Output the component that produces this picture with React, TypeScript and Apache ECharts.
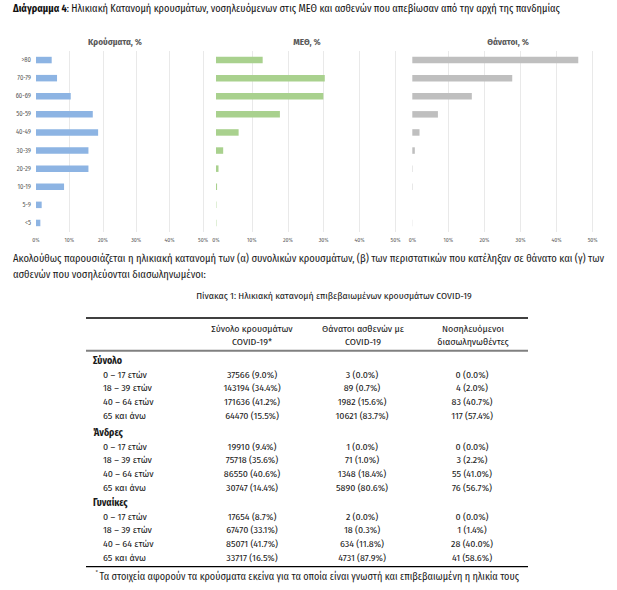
import React, { useEffect, useRef } from "react";
import * as echarts from "echarts";

const ageBands = ["<5", "5-9", "10-19", "20-29", "30-39", "40-49", "50-59", "60-69", "70-79", ">80"];
const casesPct = [1.3, 1.7, 8.4, 15.7, 15.7, 18.6, 17.0, 10.4, 6.3, 4.7];
const icuPct = [0.1, 0.1, 0.3, 0.7, 2.0, 6.3, 17.8, 29.9, 30.3, 13.0];
const deathsPct = [0.05, 0, 0.1, 0.1, 0.7, 2.0, 7.1, 16.5, 27.7, 46.0];
const panelTitles = ["Κρούσματα, %", "ΜΕΘ, %", "Θάνατοι, %"];
const xTicks = [0, 10, 20, 30, 40, 50];

const tableHeaders = [
  ["Σύνολο κρουσμάτων", "COVID-19*"],
  ["Θάνατοι ασθενών με", "COVID-19"],
  ["Νοσηλευόμενοι", "διασωληνωθέντες"],
];
const groups = ["Σύνολο", "Άνδρες", "Γυναίκες"];
const ageRows = ["0 – 17 ετών", "18 – 39 ετών", "40 – 64 ετών", "65 και άνω"];
const totalCases = ["37566 (9.0%)", "143194 (34.4%)", "171636 (41.2%)", "64470 (15.5%)"];
const totalDeaths = ["3 (0.0%)", "89 (0.7%)", "1982 (15.6%)", "10621 (83.7%)"];
const totalIntubated = ["0 (0.0%)", "4 (2.0%)", "83 (40.7%)", "117 (57.4%)"];
const menCases = ["19910 (9.4%)", "75718 (35.6%)", "86550 (40.6%)", "30747 (14.4%)"];
const menDeaths = ["1 (0.0%)", "71 (1.0%)", "1348 (18.4%)", "5890 (80.6%)"];
const menIntubated = ["0 (0.0%)", "3 (2.2%)", "55 (41.0%)", "76 (56.7%)"];
const womenCases = ["17654 (8.7%)", "67470 (33.1%)", "85071 (41.7%)", "33717 (16.5%)"];
const womenDeaths = ["2 (0.0%)", "18 (0.3%)", "634 (11.8%)", "4731 (87.9%)"];
const womenIntubated = ["0 (0.0%)", "1 (1.4%)", "28 (40.0%)", "41 (58.6%)"];

const titleBold = "Διάγραμμα 4";
const titleRest = ": Ηλικιακή Κατανομή κρουσμάτων, νοσηλευόμενων στις ΜΕΘ και ασθενών που απεβίωσαν από την αρχή της πανδημίας";
const paragraph1 = "Ακολούθως παρουσιάζεται η ηλικιακή κατανομή των (α) συνολικών κρουσμάτων, (β) των περιστατικών που κατέληξαν σε θάνατο και (γ) των";
const paragraph2 = "ασθενών που νοσηλεύονται διασωληνωμένοι:";
const tableTitle = "Πίνακας 1: Ηλικιακή κατανομή επιβεβαιωμένων κρουσμάτων COVID-19";
const footnote = "Τα στοιχεία αφορούν τα κρούσματα εκείνα για τα οποία είναι γνωστή και επιβεβαιωμένη η ηλικία τους";

const FONT = "'Fira Sans Condensed', 'Liberation Sans Narrow', 'DejaVu Sans Condensed', 'Roboto Condensed', Roboto, sans-serif";

export default function App() {
  const ref = useRef<HTMLDivElement>(null);
  useEffect(() => {
    document.body.style.margin = "0";
    const ctx = document.createElement("canvas").getContext("2d")!;
    const measure = (t: string, size: number, bold = false) => {
      ctx.font = `${bold ? "bold " : ""}${size}px ${FONT}`;
      return ctx.measureText(t).width;
    };
    const fit = (t: string, w: number, bold = false) => (10 * w) / measure(t, 10, bold);
    const clamp = (v: number, lo: number, hi: number) => Math.max(lo, Math.min(hi, v));

    const titleSize = clamp((10 * 547) / (measure(titleBold, 10, true) + measure(titleRest, 10)), 8, 14);
    const paraSize = clamp(fit(paragraph1, 592), 8, 13);
    const tableTitleSize = clamp(fit(tableTitle, 276), 8, 13);
    const cellSize = clamp(
      (fit(tableHeaders[0][0], 83) + fit(totalCases[1], 55.7) + fit(ageRows[1], 49.3) + fit(groups[0], 29, true)) / 4,
      7.5,
      12
    );
    const footSize = clamp(fit(footnote, 420), 7.5, 12);
    const panelTitleSize = clamp(fit(panelTitles[0], 54, true), 6.5, 11);
    const yLabelSize = clamp(fit(ageBands[8], 13.7), 4.5, 8);
    const xLabelSize = clamp(fit("50%", 10), 4.5, 8);

    const chart = echarts.init(ref.current!, null, { renderer: "svg" });
    const grids = [
      { left: 36, top: 51, width: 167, height: 181 },
      { left: 216, top: 51, width: 179.5, height: 181 },
      { left: 412.3, top: 51, width: 180.4, height: 181 },
    ];
    const colors = ["#8db4e3", "#a9d18e", "#bfbfbf"];
    const datas = [casesPct, icuPct, deathsPct];
    const gridLineColors = ["rgba(0,0,0,0)", "#e3e3e3", "#e3e3e3", "#e3e3e3", "#e3e3e3", "#e3e3e3"];

    const txt = (text: string, x: number, y: number, size: number, opts: any = {}) => ({
      type: "text",
      x,
      y,
      silent: true,
      style: {
        text,
        fontSize: size,
        fontFamily: FONT,
        fontWeight: opts.bold ? "bold" : "normal",
        fill: opts.color || "#1a1a1a",
        textAlign: opts.align || "left",
        textVerticalAlign: "middle",
      },
    });
    const hline = (y: number, x1: number, x2: number, w: number, c: string) => ({
      type: "line",
      silent: true,
      shape: { x1, y1: y, x2, y2: y },
      style: { stroke: c, lineWidth: w },
    });

    const graphic: any[] = [];
    graphic.push({
      type: "text",
      x: 13,
      y: 8,
      silent: true,
      style: {
        text: `{b|${titleBold}}{r|${titleRest}}`,
        textVerticalAlign: "middle",
        rich: {
          b: { fontSize: titleSize, fontFamily: FONT, fontWeight: "bold", fill: "#111" },
          r: { fontSize: titleSize, fontFamily: FONT, fill: "#111" },
        },
      },
    });
    const titleCenters = [115, 307, 508];
    panelTitles.forEach((t, i) =>
      graphic.push(txt(t, titleCenters[i], 42, panelTitleSize, { bold: true, color: "#595959", align: "center" }))
    );
    graphic.push(txt(paragraph1, 13, 258, paraSize));
    graphic.push(txt(paragraph2, 13, 274, paraSize));
    graphic.push(txt(tableTitle, 334, 296, tableTitleSize, { align: "center" }));

    graphic.push(hline(318, 86, 528, 1.5, "#000"));
    const colX = [252, 363, 473];
    tableHeaders.forEach((h, i) => {
      graphic.push(txt(h[0], colX[i], 329, cellSize, { align: "center" }));
      graphic.push(txt(h[1], colX[i], 342, cellSize, { align: "center" }));
    });
    graphic.push(hline(350.7, 86, 528, 2, "#808080"));

    const groupCells = [
      [totalCases, totalDeaths, totalIntubated],
      [menCases, menDeaths, menIntubated],
      [womenCases, womenDeaths, womenIntubated],
    ];
    const groupY = [360.7, 432.7, 502.7];
    const valueX = [252, 362, 472];
    groups.forEach((g, gi) => {
      graphic.push(txt(g, 93, groupY[gi], cellSize, { bold: true }));
      ageRows.forEach((a, ri) => {
        const y = groupY[gi] + 14 + ri * 13.7;
        graphic.push(txt(a, 103, y, cellSize));
        groupCells[gi].forEach((col, ci) => graphic.push(txt(col[ri], valueX[ci], y, cellSize, { align: "center" })));
      });
    });
    graphic.push(hline(566.7, 86, 528, 1.3, "#000"));
    graphic.push(txt("*", 95.5, 572, 6));
    graphic.push(txt(footnote, 99.5, 576, footSize));

    chart.setOption({
      animation: false,
      backgroundColor: "#fff",
      grid: grids,
      xAxis: grids.map((_, i) => ({
        type: "value",
        gridIndex: i,
        min: 0,
        max: 50,
        interval: 10,
        axisLine: { show: false },
        axisTick: { show: false },
        axisLabel: {
          formatter: (v: number) => (xTicks.includes(v) ? `${v}%` : ""),
          fontSize: xLabelSize,
          color: "#595959",
          fontFamily: FONT,
          margin: 5,
        },
        splitLine: { show: true, lineStyle: { color: gridLineColors, width: 0.8 } },
      })),
      yAxis: grids.map((_, i) => ({
        type: "category",
        gridIndex: i,
        data: ageBands,
        axisLine: { show: false },
        axisTick: { show: false },
        axisLabel: { show: i === 0, fontSize: yLabelSize, color: "#595959", fontFamily: FONT, margin: 5 },
      })),
      series: datas.map((d, i) => ({
        type: "bar",
        xAxisIndex: i,
        yAxisIndex: i,
        data: d,
        barWidth: 6.5,
        itemStyle: { color: colors[i] },
        silent: true,
      })),
      graphic,
    });
    return () => chart.dispose();
  }, []);
  return <div ref={ref} style={{ position: "fixed", left: 0, top: 0, width: 617, height: 590 }} />;
}
